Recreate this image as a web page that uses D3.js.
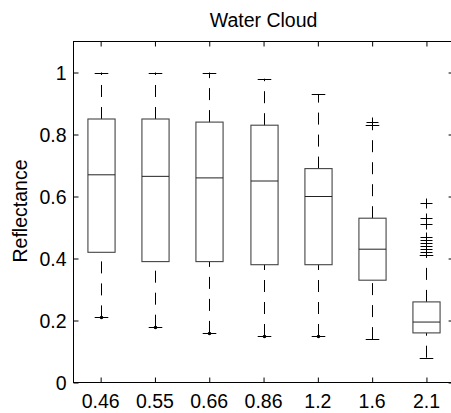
<!DOCTYPE html>
<html>
<head>
<meta charset="utf-8">
<script src="https://cdn.jsdelivr.net/npm/d3@7"></script>
<style>
	body { margin: 0; background: #fff; }
	svg { display: block; }
	text { font-family: Arial, 'Liberation Sans', Helvetica, sans-serif; fill: #000; }
</style>
</head>
<body>
<div id="render"></div>
<script>
const categories = ['0.46', '0.55', '0.66', '0.86', '1.2', '1.6', '2.1'];
const q1 = [0.42, 0.39, 0.39, 0.38, 0.38, 0.33, 0.16];
const medians = [0.67, 0.665, 0.66, 0.65, 0.60, 0.43, 0.195];
const q3 = [0.85, 0.85, 0.84, 0.83, 0.69, 0.53, 0.26];
const whiskerLow = [0.21, 0.18, 0.16, 0.15, 0.15, 0.14, 0.08];
const whiskerHigh = [1.0, 1.0, 1.0, 0.98, 0.93, 0.83, 0.41];
const lowMarks = [0.21, 0.18, 0.16, 0.15, 0.15, null, null];
const outliers = [[], [], [], [], [], [0.84], [0.58, 0.53, 0.51, 0.47, 0.46, 0.45, 0.44, 0.43, 0.42]];
const yTicks = [0, 0.2, 0.4, 0.6, 0.8, 1];

const attrs = (sel, _attrs)=>{
	for (const i in _attrs) {
		sel.attr(i, _attrs[i]);
	}
	return sel;
};

const width = 451, height = 413;
const mLeft = 73.5, mTop = 41.5, mBottom = 382.5;
const step = 54.3;
const mRight = mLeft + step * categories.length;
const FONT = 19.5;
const TICK = 5;

const x = d3.scaleLinear().domain([0.5, categories.length + 0.5]).range([mLeft, mRight]);
const y = d3.scaleLinear().domain([0, 1.1]).range([mBottom, mTop]);

const svg = d3.select('#render').append('svg');
attrs(svg, { width, height, xmlns: 'http://www.w3.org/2000/svg' });

// frame
attrs(svg.append('rect'), {
	x: mLeft, y: mTop, width: mRight - mLeft, height: mBottom - mTop,
	fill: 'none', stroke: '#000', 'stroke-width': 1
});

const positions = categories.map((c, i)=>i + 1);

// axes, ticks pointing inward like matlab
const axLeft = svg.append('g').attr('transform', `translate(${mLeft},0)`)
	.call(d3.axisRight(y).tickValues(yTicks).tickSize(TICK).tickFormat(''));
const axRight = svg.append('g').attr('transform', `translate(${mRight},0)`)
	.call(d3.axisLeft(y).tickValues(yTicks).tickSize(TICK).tickFormat(''));
const axBottom = svg.append('g').attr('transform', `translate(0,${mBottom})`)
	.call(d3.axisTop(x).tickValues(positions).tickSize(TICK).tickFormat(''));
const axTop = svg.append('g').attr('transform', `translate(0,${mTop})`)
	.call(d3.axisBottom(x).tickValues(positions).tickSize(TICK).tickFormat(''));
[axLeft, axRight, axBottom, axTop].forEach((ax)=>{
	ax.select('.domain').remove();
	ax.selectAll('line').attr('stroke', '#000');
});

// tick labels
svg.append('g').selectAll('text').data(yTicks).join('text')
	.attr('x', mLeft - 7)
	.attr('y', (d)=>y(d))
	.attr('dy', '0.36em')
	.attr('text-anchor', 'end')
	.style('font-size', FONT + 'px')
	.text((d)=>d3.format('~g')(d));

svg.append('g').selectAll('text').data(categories).join('text')
	.attr('x', (d, i)=>x(i + 1))
	.attr('y', 407.5)
	.attr('text-anchor', 'middle')
	.style('font-size', FONT + 'px')
	.text((d)=>d);

// title and y label
attrs(svg.append('text'), { x: (mLeft + mRight) / 2, y: 26.5, 'text-anchor': 'middle' })
	.style('font-size', FONT + 'px').text('Water Cloud');
attrs(svg.append('text'), { transform: 'translate(27,211) rotate(-90)', 'text-anchor': 'middle' })
	.style('font-size', FONT + 'px').text('Reflectance');

// boxes
const boxW = 0.5 * step, capW = 0.25 * step;
const g = svg.append('g').selectAll('g').data(categories).join('g');

g.each(function(d, i){
	const sel = d3.select(this);
	const cx = Math.round(x(i + 1)) + 0.5;

	// whiskers drawn upward, dashed
	attrs(sel.append('line'), {
		x1: cx, x2: cx, y1: y(whiskerLow[i]), y2: y(q1[i]),
		stroke: '#000', 'stroke-dasharray': '12,10'
	});
	attrs(sel.append('line'), {
		x1: cx, x2: cx, y1: y(q3[i]), y2: y(whiskerHigh[i]),
		stroke: '#000', 'stroke-dasharray': '12,10'
	});
	[whiskerLow[i], whiskerHigh[i]].forEach((v)=>{
		attrs(sel.append('line'), {
			x1: cx - capW / 2, x2: cx + capW / 2, y1: Math.round(y(v)) + 0.5, y2: Math.round(y(v)) + 0.5,
			stroke: '#000'
		});
	});

	attrs(sel.append('rect'), {
		x: cx - boxW / 2, y: y(q3[i]), width: boxW, height: y(q1[i]) - y(q3[i]),
		fill: 'none', stroke: '#444', 'stroke-width': 1.1
	});
	attrs(sel.append('line'), {
		x1: cx - boxW / 2, x2: cx + boxW / 2, y1: y(medians[i]), y2: y(medians[i]),
		stroke: '#222'
	});

	if (lowMarks[i] !== null) {
		attrs(sel.append('circle'), { cx, cy: Math.round(y(lowMarks[i])) + 0.5, r: 1.8, fill: '#000' });
	}

	outliers[i].forEach((v)=>{
		const oy = Math.round(y(v)) + 0.5;
		attrs(sel.append('path'), {
			d: `M${cx - 6},${oy}H${cx + 6}M${cx},${oy - 5}V${oy + 5}`,
			stroke: '#000', fill: 'none'
		});
	});
});
</script>
</body>
</html>
